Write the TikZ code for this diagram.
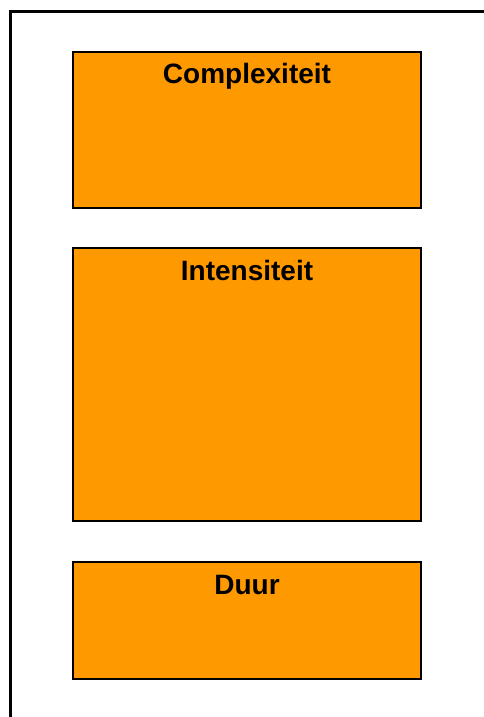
\documentclass[tikz,border=0pt]{standalone}
\usepackage{fontspec}
\setmainfont{Liberation Sans}
\definecolor{oranje}{RGB}{255,153,0}
\begin{document}
\begin{tikzpicture}
[x=0.75pt,y=-0.75pt,
  blokdecorate/.style={shape=rectangle,draw,line width=1.5pt,fill=oranje,%
    inner sep=0pt,outer sep=0pt,minimum width=261pt,anchor=north},
  titeldecorate/.style={anchor=base,inner sep=0pt,%
    font=\bfseries\fontsize{21}{25}\selectfont}]
\useasboundingbox (0,0) rectangle (483,717);
%% frame
\draw[line width=2.25pt] (10.5,730) |- (500,11.5);
%% blocks with titles
\foreach \naam/\tekst/\boven/\hoogte in {cplx/Complexiteit/52/156,
  ints/Intensiteit/248/273, duur/Duur/562/117} {
  \node (\naam) at (247,\boven) [blokdecorate,minimum height=\hoogte*0.75pt] {};
  \node [titeldecorate] at ([yshift=-24pt]\naam.north) {\tekst};
}
\end{tikzpicture}
\end{document}
